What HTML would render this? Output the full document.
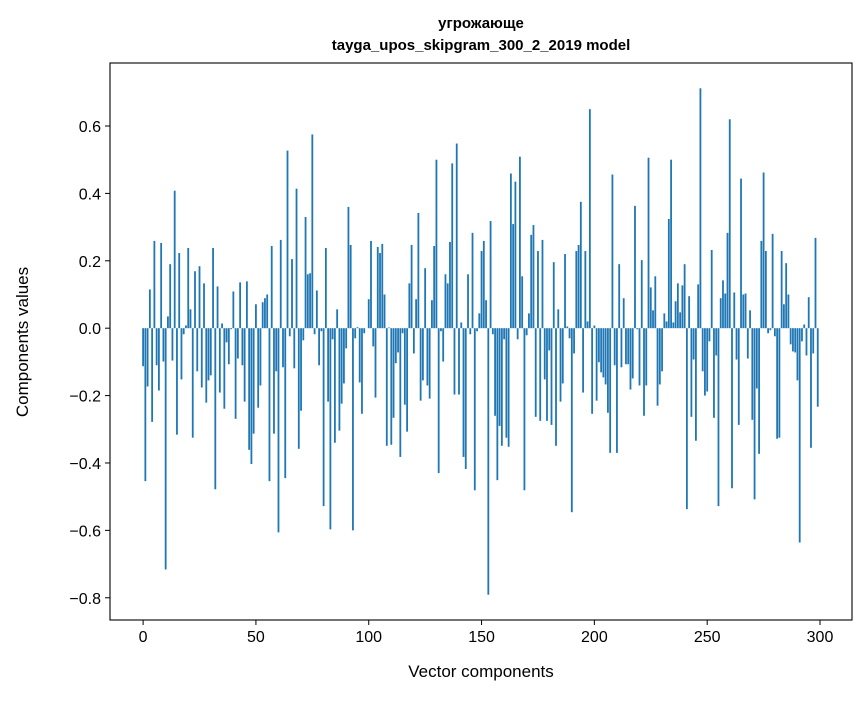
<!DOCTYPE html>
<html><head><meta charset="utf-8"><style>
body{margin:0;background:#fff;}
svg text{font-family:"Liberation Sans","DejaVu Sans",sans-serif;}
</style></head><body>
<svg id="chart" width="867" height="696" xmlns="http://www.w3.org/2000/svg">
<text x="481" y="28" text-anchor="middle" font-size="15" font-weight="bold">угрожающе</text>
<text x="481" y="50" text-anchor="middle" font-size="15" font-weight="bold">tayga_upos_skipgram_300_2_2019 model</text>
<g id="bars"></g>
<g id="axes"></g>
<text x="481" y="677" text-anchor="middle" font-size="17">Vector components</text>
<text x="28" y="342" text-anchor="middle" font-size="17" transform="rotate(-90 28 342)">Components values</text>
</svg>
<script>
const values = [
-0.113,-0.454,-0.173,0.115,-0.278,0.259,-0.11,-0.185,0.253,-0.099,
-0.716,0.035,0.19,-0.096,0.408,-0.316,0.223,-0.152,-0.018,0.008,
0.238,0.056,-0.325,0.169,-0.128,0.184,-0.176,0.133,-0.221,-0.155,
-0.14,0.238,-0.478,0.124,-0.191,0.014,-0.239,-0.042,-0.107,-0.003,
0.109,-0.269,-0.09,0.136,-0.11,-0.218,0.139,-0.361,-0.403,-0.313,
0.071,-0.236,-0.17,0.077,0.089,0.1,-0.454,0.244,-0.313,-0.128,
-0.606,0.262,-0.116,-0.445,0.527,-0.024,0.205,-0.119,0.414,-0.358,
-0.245,-0.036,0.33,0.16,0.163,0.575,-0.018,0.112,-0.11,-0.009,
-0.528,0.238,-0.218,-0.597,-0.033,-0.34,0.056,-0.304,-0.224,-0.164,
-0.06,0.36,0.247,-0.6,-0.03,0.003,-0.161,-0.254,-0.015,0.0,
0.086,0.259,-0.054,-0.206,0.241,0.223,0.25,0.1,-0.349,0.002,
-0.346,-0.266,-0.104,-0.072,-0.382,-0.015,-0.227,-0.307,0.133,0.247,
-0.075,0.086,0.342,-0.215,-0.155,0.178,-0.17,-0.209,0.083,0.244,
0.5,-0.43,-0.009,-0.099,0.16,0.133,0.256,0.489,-0.197,0.548,
-0.197,0.017,-0.382,-0.418,0.16,-0.018,0.283,-0.481,-0.009,0.044,
0.229,0.259,0.083,-0.791,0.318,-0.018,-0.26,-0.451,-0.29,-0.349,
-0.033,-0.325,-0.352,0.459,0.309,0.435,-0.033,0.509,0.154,-0.481,
-0.021,0.044,0.277,0.306,-0.263,0.229,-0.275,0.262,-0.152,-0.275,
-0.066,-0.287,0.196,-0.349,0.056,-0.218,-0.164,0.22,0.005,-0.03,
-0.546,-0.075,0.229,0.247,0.375,-0.191,0.229,0.02,0.65,-0.254,
0.008,-0.215,-0.101,-0.131,-0.146,-0.167,-0.251,-0.37,0.456,-0.11,
-0.37,0.19,-0.116,0.089,-0.107,-0.107,-0.182,-0.149,0.363,-0.003,
-0.17,0.202,-0.26,-0.17,0.506,0.121,0.053,0.154,-0.23,-0.167,
-0.128,0.044,0.02,0.324,0.5,0.017,0.08,0.133,0.047,0.127,
0.19,-0.537,0.095,-0.263,-0.093,-0.334,0.13,0.712,-0.128,-0.2,
-0.188,-0.039,0.232,-0.266,-0.081,-0.528,0.089,0.142,0.103,0.283,
0.62,-0.475,0.106,-0.093,-0.287,0.444,0.1,0.103,-0.09,0.053,
-0.272,-0.508,-0.179,-0.373,0.259,0.462,0.229,-0.015,-0.006,0.28,
-0.024,-0.328,-0.325,0.229,0.071,0.193,0.1,-0.048,-0.069,-0.072,
-0.155,-0.636,-0.039,0.011,-0.081,0.092,-0.355,-0.075,0.268,-0.233
];
const xTicks = [0,50,100,150,200,250,300];
const yTicks = [-0.8,-0.6,-0.4,-0.2,0.0,0.2,0.4,0.6];
const L=110,R=852,T=63,B=620;
const xMin=-14.67,xMax=314.18,yMin=-0.866,yMax=0.787;
const sx=v=>L+(v-xMin)/(xMax-xMin)*(R-L);
const sy=v=>B-(v-yMin)/(yMax-yMin)*(B-T);
const NS="http://www.w3.org/2000/svg";
const bars=document.getElementById('bars');
values.forEach((v,i)=>{
  const r=document.createElementNS(NS,'rect');
  const x0=sx(i-0.4),x1=sx(i+0.4);
  const y0=sy(Math.max(v,0)),y1=sy(Math.min(v,0));
  r.setAttribute('x',x0);r.setAttribute('width',x1-x0);
  r.setAttribute('y',y0);r.setAttribute('height',Math.max(y1-y0,0.01));
  r.setAttribute('fill','#1f77b4');
  
  
  bars.appendChild(r);
});
const ax=document.getElementById('axes');
const frame=document.createElementNS(NS,'rect');
frame.setAttribute('x',L);frame.setAttribute('y',T);frame.setAttribute('width',R-L);frame.setAttribute('height',B-T);
frame.setAttribute('fill','none');frame.setAttribute('stroke','#000');frame.setAttribute('stroke-width','1.1');


ax.appendChild(frame);
xTicks.forEach(t=>{
  const x=sx(t);
  const l=document.createElementNS(NS,'line');
  l.setAttribute('x1',x);l.setAttribute('x2',x);l.setAttribute('y1',B);l.setAttribute('y2',B+5);l.setAttribute('stroke','#000');
  
  
  ax.appendChild(l);
  const tx=document.createElementNS(NS,'text');
  tx.setAttribute('x',x);tx.setAttribute('y',B+22);tx.setAttribute('text-anchor','middle');tx.setAttribute('font-size','16');
  tx.textContent=t;
  
  
  ax.appendChild(tx);
});
yTicks.forEach(t=>{
  const y=sy(t);
  const l=document.createElementNS(NS,'line');
  l.setAttribute('x1',L-5);l.setAttribute('x2',L);l.setAttribute('y1',y);l.setAttribute('y2',y);l.setAttribute('stroke','#000');
  
  
  ax.appendChild(l);
  const tx=document.createElementNS(NS,'text');
  tx.setAttribute('x',L-9);tx.setAttribute('y',y+6);tx.setAttribute('text-anchor','end');tx.setAttribute('font-size','16');
  tx.textContent=(t<0?'\u2212':'')+Math.abs(t).toFixed(1);
  
  
  ax.appendChild(tx);
});
</script>
</body></html>
